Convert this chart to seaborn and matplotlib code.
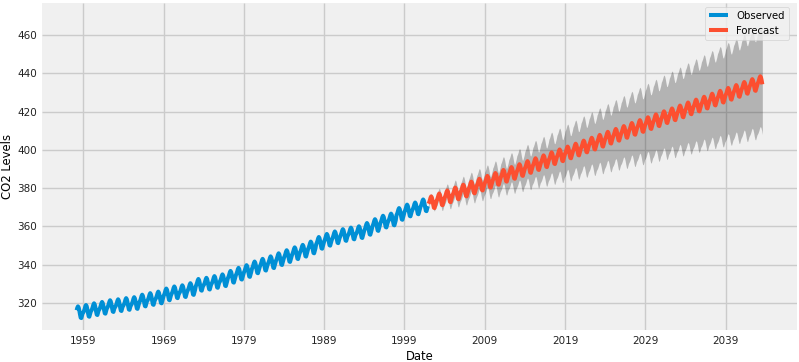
import numpy as np
import pandas as pd
import matplotlib
matplotlib.use("Agg")
import matplotlib.pyplot as plt
import matplotlib.dates as mdates
import seaborn as sns

# ---- data ----
# January level of each observed year (1958..2001), ppm
obs_years = list(range(1958, 2002))
obs_jan_level = [314.5, 315.2, 316.1, 316.8, 317.7, 318.2, 318.8, 319.3, 320.6, 321.4,
                 322.2, 323.8, 324.9, 325.5, 326.6, 328.8, 329.4, 330.3, 331.2, 333.0,
                 334.6, 336.0, 337.9, 339.3, 340.6, 342.2, 343.8, 345.3, 346.6, 348.3,
                 350.7, 352.3, 353.6, 354.8, 355.6, 356.3, 358.0, 360.0, 361.8, 362.9,
                 365.8, 367.6, 368.7, 370.3]
# month offsets from the January level (Jan..Dec)
month_offset = [0.0, 0.8, 1.8, 3.1, 3.8, 3.2, 1.7, -0.4, -2.1, -2.3, -1.0, 0.3]

# forecast January levels (2002..2043) and CI half-widths
fc_years = list(range(2002, 2044))
fc_jan_level = [371.9, 373.4, 375.0, 376.5, 378.0, 379.6, 381.1, 382.6, 384.1, 385.7,
                387.2, 388.7, 390.3, 391.8, 393.3, 394.9, 396.4, 397.9, 399.4, 401.0,
                402.5, 404.0, 405.6, 407.1, 408.6, 410.2, 411.7, 413.2, 414.7, 416.3,
                417.8, 419.3, 420.9, 422.4, 423.9, 425.5, 427.0, 428.5, 430.0, 431.6,
                433.1, 434.6]
fc_ci_half = [1.5, 2.8, 3.5, 4.0, 4.5, 5.0, 5.4, 5.8, 6.4, 7.0,
              7.6, 8.2, 8.8, 9.4, 10.0, 10.6, 11.2, 11.8, 12.4, 13.0,
              13.6, 14.2, 14.8, 15.4, 16.0, 16.6, 17.2, 17.8, 18.4, 19.0,
              19.6, 20.2, 20.8, 21.4, 22.0, 22.6, 23.2, 23.8, 24.4, 25.0,
              25.6, 26.2]

obs_start, obs_months = "1958-03-01", 526
fc_start, fc_months = "2002-01-01", 500
tick_years = [1959, 1969, 1979, 1989, 1999, 2009, 2019, 2029, 2039]

# ---- build tables ----
obs_dates = pd.date_range(obs_start, periods=obs_months, freq="MS")
obs_lvl = dict(zip(obs_years, obs_jan_level))
obs_df = pd.DataFrame({
    "Date": obs_dates,
    "co2": [obs_lvl[d.year] + month_offset[d.month - 1] for d in obs_dates],
})

fc_dates = pd.date_range(fc_start, periods=fc_months, freq="MS")
fc_lvl = dict(zip(fc_years, fc_jan_level))
fc_hw = dict(zip(fc_years, fc_ci_half))
fc_mean = np.array([fc_lvl[d.year] + month_offset[d.month - 1] for d in fc_dates])
fc_half = np.array([fc_hw[d.year] for d in fc_dates])
fc_df = pd.DataFrame({"Date": fc_dates, "co2": fc_mean,
                      "lower": fc_mean - fc_half, "upper": fc_mean + fc_half})

# ---- plot ----
plt.style.use("fivethirtyeight")
plt.rcParams["font.family"] = ["DejaVu Sans"]

fig = plt.figure(figsize=(7.99, 3.62), dpi=100, facecolor="white")
ax = fig.add_axes([0.053, 0.088, 0.944, 0.904])
ax.set_facecolor("#f0f0f0")

sns.lineplot(data=obs_df, x="Date", y="co2", ax=ax, color="#008fd5",
             linewidth=2.9, estimator=None, label="Observed")
sns.lineplot(data=fc_df, x="Date", y="co2", ax=ax, color="#fc4f30",
             linewidth=2.9, estimator=None, label="Forecast")
ax.fill_between(fc_df["Date"], fc_df["lower"], fc_df["upper"],
                color="k", alpha=0.25, linewidth=0)

ax.set_xticks([pd.Timestamp(f"{y}-01-01") for y in tick_years])
ax.xaxis.set_major_formatter(mdates.DateFormatter("%Y"))
ax.set_ylim(305.9, 476.7)
ax.set_yticks([320, 340, 360, 380, 400, 420, 440, 460])

ax.tick_params(axis="both", labelsize=7.5, length=0, pad=4, colors="#222222")
ax.set_xlabel("Date", fontsize=8.4, labelpad=3)
ax.set_ylabel("CO2 Levels", fontsize=8.4, labelpad=2)
ax.grid(True, color="#cbcbcb", linewidth=1)
for s in ax.spines.values():
    s.set_visible(False)

leg = ax.legend(loc="upper right", bbox_to_anchor=(0.9894, 0.9878),
                borderaxespad=0, fontsize=7.3, frameon=True, fancybox=True,
                framealpha=0.8, handlelength=1.9)
for line in leg.get_lines():
    line.set_linewidth(2.9)

fig.savefig("out.png", dpi=100, facecolor="white")
